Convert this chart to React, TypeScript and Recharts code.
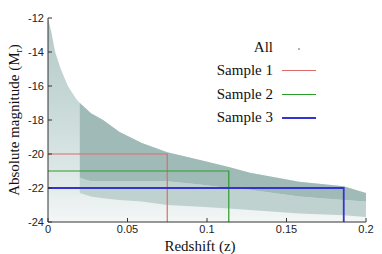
import { ComposedChart, Area, Line, XAxis, YAxis, Legend, Label } from "recharts";

// upper envelope of the galaxy cloud (magnitude limit)
const zEdge = [0, 0.002, 0.0045, 0.008, 0.0125, 0.018, 0.02, 0.027, 0.0346, 0.045, 0.059, 0.075, 0.0956, 0.1137, 0.127, 0.158, 0.186, 0.2];
const magLimit = [-12, -12.8, -14, -15, -16, -16.8, -17, -17.6, -18, -18.7, -19.35, -19.9, -20.35, -20.76, -21.1, -21.63, -21.9, -22.3];
// where the dense core and the medium band of the cloud stop
const coreFloor = [null, null, null, null, null, null, -21.4, -21.6, -21.6, -21.6, -21.6, -21.6, -21.8, -22, -22.1, -22.5, -22.7, -22.8];
const midFloor = [null, null, null, null, null, null, -22.3, -22.5, -22.6, -22.7, -22.8, -23.0, -23.1, -23.2, -23.3, -23.5, -23.6, -23.7];

const sampleNames = ["Sample 1", "Sample 2", "Sample 3"];
const sampleZCut = [0.075, 0.1137, 0.186];
const sampleMagCut = [-20, -21, -22];
const sampleColors = ["#dc6c6c", "#2a9e2a", "#3434d4"];
const sampleWidths = [1.2, 1.2, 1.8];

const xTicks = [0, 0.05, 0.1, 0.15, 0.2];
const yTicks = [-24, -22, -20, -18, -16, -14, -12];

const cloudColor = "#a0bab7";
const frame = "#333";
const serif = "'Liberation Serif', 'Times New Roman', serif";
const sans = "'Liberation Sans', Arial, sans-serif";

const cloud = zEdge.map((z, i) => ({
  z,
  all: [-24, magLimit[i]],
  mid: midFloor[i] == null ? null : [midFloor[i], coreFloor[i]],
  core: coreFloor[i] == null ? null : [coreFloor[i], magLimit[i]],
}));

const sampleLines = sampleNames.map((_, i) => [
  { z: 0, m: sampleMagCut[i] },
  { z: sampleZCut[i], m: sampleMagCut[i] },
  { z: sampleZCut[i], m: -24 },
]);

const renderLegend = () => (
  <div style={{ fontFamily: serif, fontSize: 15, color: "#111" }}>
    {["All", ...sampleNames].map((name, i) => (
      <div key={name} style={{ display: "flex", alignItems: "center", height: 23.3 }}>
        <span style={{ width: 73, textAlign: "right", whiteSpace: "nowrap" }}>{name}</span>
        {i === 0 ? (
          <span style={{ marginLeft: 25, width: 2, height: 2, background: cloudColor, marginTop: 3 }} />
        ) : (
          <span
            style={{
              marginLeft: 9,
              width: 34,
              height: i === 3 ? 2 : 1,
              background: sampleColors[i - 1],
            }}
          />
        )}
      </div>
    ))}
  </div>
);

export default function App() {
  return (
    <div style={{ position: "absolute", left: 0, top: 0, background: "#fff" }}>
      <ComposedChart
        width={382}
        height={254}
        data={cloud}
        margin={{ top: 18, right: 16, bottom: 0, left: 8 }}
      >
        <defs>
          <linearGradient id="allFill" x1="0" y1="0" x2="0" y2="1">
            <stop offset="0%" stopColor="#b4c9c7" />
            <stop offset="40%" stopColor="#c6d8d6" />
            <stop offset="75%" stopColor="#dce7e6" />
            <stop offset="100%" stopColor="#f3f7f6" />
          </linearGradient>
        </defs>
        <XAxis
          dataKey="z"
          type="number"
          domain={[0, 0.2]}
          ticks={xTicks}
          allowDataOverflow
          height={32}
          tickSize={-4}
          tickMargin={7}
          stroke={frame}
          tick={{ fill: "#222", fontSize: 11, fontFamily: sans }}
        >
          <Label
            content={() => (
              <text x={200} y={251} textAnchor="middle" fontFamily={serif} fontSize={15} fill="#111">
                Redshift (z)
              </text>
            )}
          />
        </XAxis>
        <XAxis
          xAxisId="top"
          orientation="top"
          type="number"
          domain={[0, 0.2]}
          ticks={xTicks}
          height={0}
          tick={false}
          tickSize={-4}
          stroke={frame}
        />
        <YAxis
          type="number"
          domain={[-24, -12]}
          ticks={yTicks}
          allowDataOverflow
          width={40}
          tickSize={-4}
          tickMargin={8}
          stroke={frame}
          tick={{ fill: "#222", fontSize: 11, fontFamily: sans }}
        >
          <Label
            content={() => (
              <text
                transform="translate(19,120) rotate(-90)"
                textAnchor="middle"
                fontFamily={serif}
                fontSize={15}
                fill="#111"
              >
                Absolute magnitude (M
                <tspan fontSize={10} dy={3}>r</tspan>
                <tspan dy={-3}>)</tspan>
              </text>
            )}
          />
        </YAxis>
        <YAxis
          yAxisId="right"
          orientation="right"
          type="number"
          domain={[-24, -12]}
          ticks={yTicks}
          width={0}
          tick={false}
          tickSize={-4}
          stroke={frame}
        />
        <Area
          dataKey="all"
          type="linear"
          stroke="none"
          fill="url(#allFill)"
          fillOpacity={1}
          isAnimationActive={false}
        />
        <Area
          dataKey="mid"
          type="linear"
          stroke="none"
          fill="#c0d2d0"
          fillOpacity={1}
          isAnimationActive={false}
        />
        <Area
          dataKey="core"
          type="linear"
          stroke="none"
          fill={cloudColor}
          fillOpacity={1}
          isAnimationActive={false}
        />
        {sampleLines.map((pts, i) => (
          <Line
            key={sampleNames[i]}
            data={pts}
            dataKey="m"
            type="linear"
            stroke={sampleColors[i]}
            strokeWidth={sampleWidths[i]}
            dot={false}
            activeDot={false}
            isAnimationActive={false}
          />
        ))}
        <Legend
          layout="vertical"
          align="center"
          verticalAlign="middle"
          content={renderLegend}
          wrapperStyle={{ left: 200, top: 36, width: 130 }}
        />
      </ComposedChart>
    </div>
  );
}
